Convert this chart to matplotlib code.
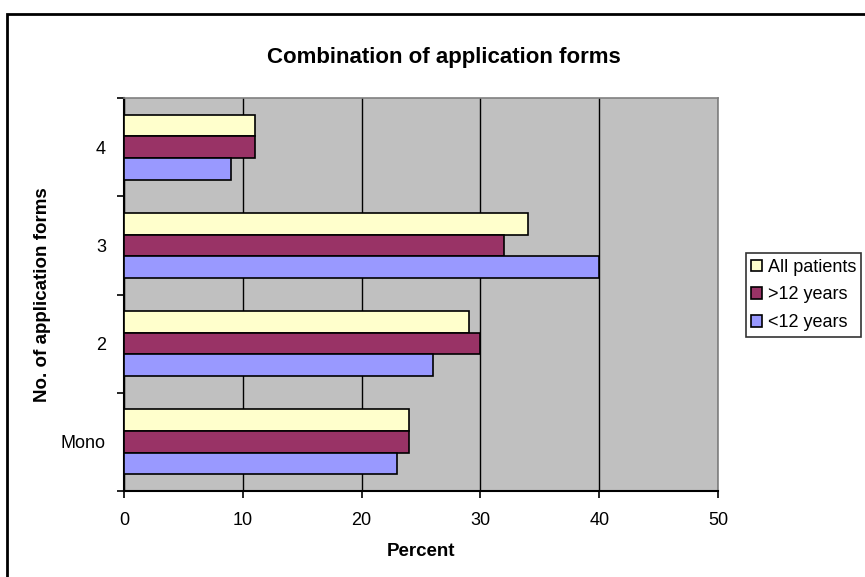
import numpy as np
import matplotlib.pyplot as plt
from matplotlib.patches import Rectangle

plt.rcParams['font.family'] = ['Liberation Sans', 'DejaVu Sans']

categories = ['Mono', '2', '3', '4']
all_patients = [24, 29, 34, 11]
over_12 = [24, 30, 32, 11]
under_12 = [23, 26, 40, 9]
x_ticks = [0, 10, 20, 30, 40, 50]

colors = {'All patients': '#FFFFCC', '>12 years': '#993366', '<12 years': '#9999FF'}

fig = plt.figure(figsize=(8.65, 5.77), dpi=100)
ax = fig.add_axes([124 / 865, 1 - 491 / 577, (718 - 124) / 865, (491 - 98) / 577])
ax.set_facecolor('#C0C0C0')

y = np.arange(len(categories))
h = 0.22
ax.barh(y + h, all_patients, height=h, color=colors['All patients'], edgecolor='black',
        linewidth=1.2, label='All patients', zorder=3)
ax.barh(y, over_12, height=h, color=colors['>12 years'], edgecolor='black',
        linewidth=1.2, label='>12 years', zorder=3)
ax.barh(y - h, under_12, height=h, color=colors['<12 years'], edgecolor='black',
        linewidth=1.2, label='<12 years', zorder=3)

ax.set_xlim(0, 50)
ax.set_ylim(-0.5, len(categories) - 0.5)
ax.set_xticks(x_ticks)
ax.set_xticklabels([str(t) for t in x_ticks], fontsize=13)
ax.set_yticks(y)
ax.set_yticklabels(categories, fontsize=13)
ax.set_yticks(np.arange(-0.5, len(categories), 1), minor=True)
ax.tick_params(axis='y', which='major', length=0, pad=13)
ax.tick_params(axis='y', which='minor', length=5, width=1.2, direction='out')
ax.tick_params(axis='x', which='major', length=5, width=1.2, direction='out', pad=10)
ax.xaxis.grid(True, color='black', linewidth=1)
ax.set_axisbelow(True)

for side in ['left', 'bottom']:
    ax.spines[side].set_linewidth(1.5)
    ax.spines[side].set_color('black')
for side in ['top', 'right']:
    ax.spines[side].set_linewidth(1.2)
    ax.spines[side].set_color('#808080')

ax.set_xlabel('Percent', fontsize=13.5, fontweight='bold', labelpad=10)
fig.text(43 / 865, 1 - 295 / 577, 'No. of application forms', fontsize=13.5,
         fontweight='bold', rotation=90, ha='center', va='center')

fig.text(444 / 865, 1 - 58 / 577, 'Combination of application forms', fontsize=16,
         fontweight='bold', ha='center', va='center')

leg = ax.legend(loc='center left', bbox_to_anchor=(746 / 865, 1 - 295 / 577),
                bbox_transform=fig.transFigure, fontsize=13, frameon=True,
                fancybox=False, edgecolor='black', handlelength=0.6, handleheight=0.6,
                handletextpad=0.3, borderpad=0.3, labelspacing=0.6, borderaxespad=0)
leg.get_frame().set_linewidth(1.2)

# outer frame of the chart object, running off the right and bottom edges
fig.patches.append(Rectangle((7 / 865, -0.1), 1.2, 1.1 - 14 / 577,
                             transform=fig.transFigure, fill=False,
                             edgecolor='black', linewidth=2))

fig.savefig('out.png', dpi=100)
